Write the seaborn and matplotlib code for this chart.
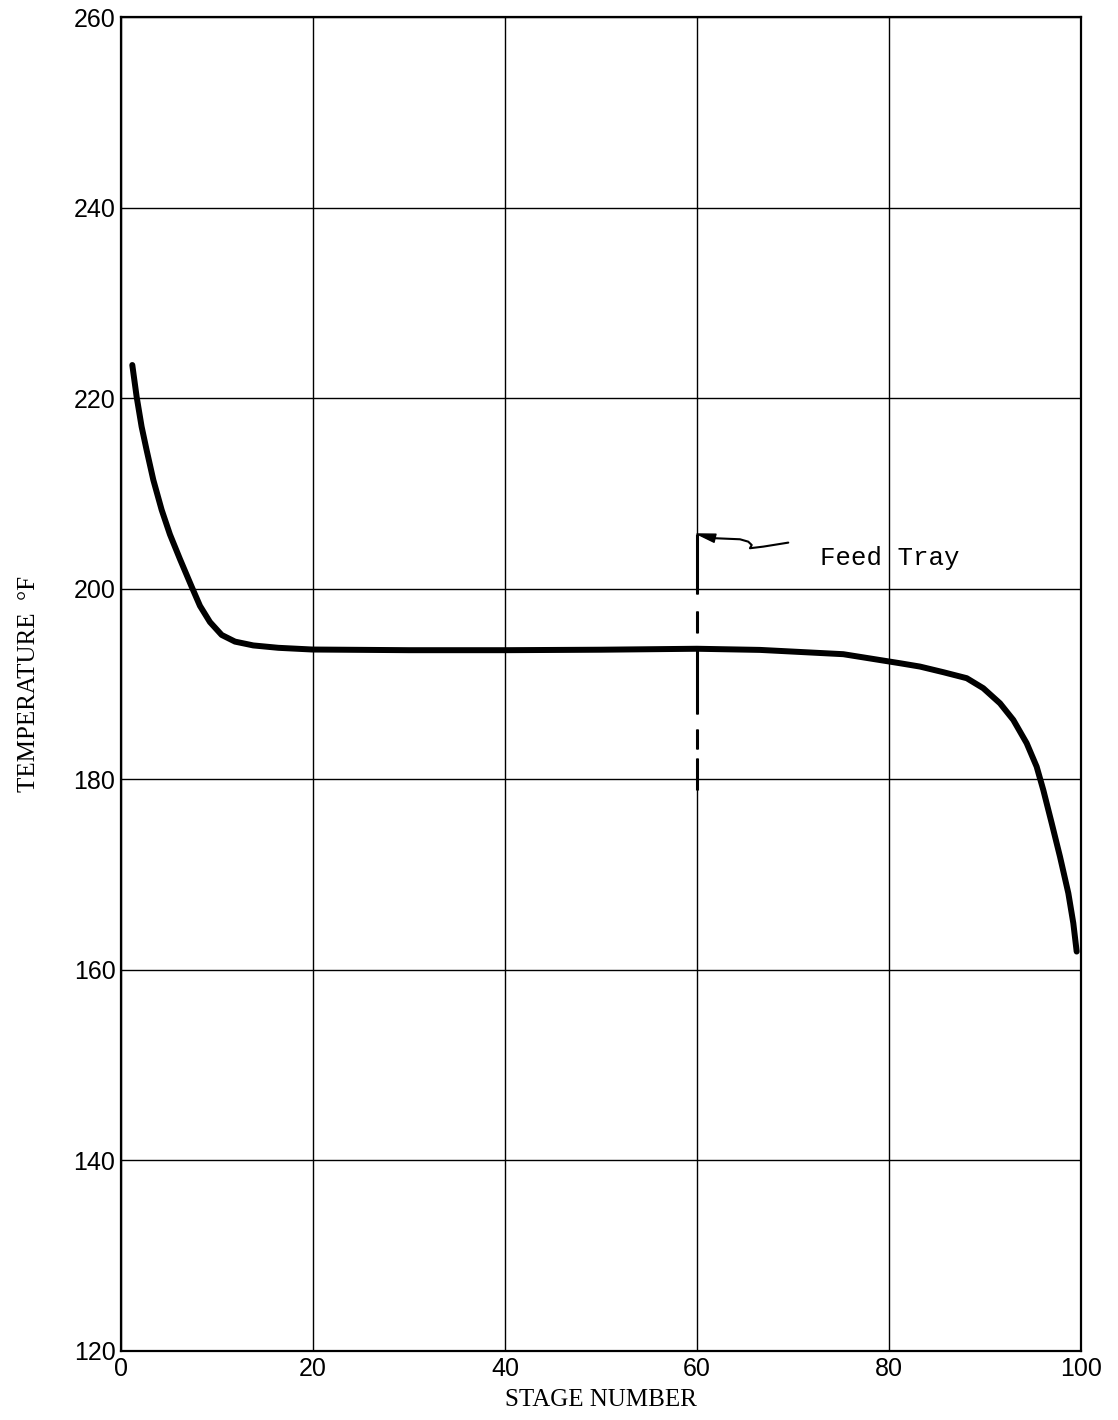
import matplotlib
matplotlib.use("Agg")
import matplotlib.pyplot as plt
import seaborn as sns
import pandas as pd

# ---- data ----
stage = [1.18, 1.63, 2.15, 2.67, 3.37, 4.24, 5.10, 6.15, 7.36, 8.23, 9.27, 10.49,
         11.88, 13.78, 16.39, 19.93, 30.0, 40.0, 50.0, 60.0, 66.56, 75.24,
         81.15, 83.23, 85.66, 88.10, 89.82, 91.56, 92.95, 94.34, 95.38, 96.07, 96.95,
         97.81, 98.68, 99.20, 99.55]
temperature = [223.48, 220.16, 217.01, 214.56, 211.42, 208.27, 205.70, 203.10, 200.22,
               198.20, 196.50, 195.15, 194.45, 194.05, 193.80, 193.62, 193.55, 193.55,
               193.6, 193.7, 193.58, 193.13, 192.18, 191.83, 191.24, 190.61,
               189.56, 187.98, 186.23, 183.79, 181.33, 178.89, 175.39, 171.89, 168.05,
               164.90, 161.92]

x_ticks = [0, 20, 40, 60, 80, 100]
y_ticks = [120, 140, 160, 180, 200, 220, 240, 260]

feed_stage = 60
feed_top = 205.75
feed_bottom = 178.9
arrow_x = [69.51, 66.91, 65.52, 65.70, 65.34, 64.48, 61.88]
arrow_y = [204.84, 204.42, 204.25, 204.59, 204.94, 205.19, 205.30]
feed_label = "Feed Tray"
feed_label_pos = (72.8, 203.2)

df = pd.DataFrame({"stage": stage, "temperature": temperature})

sns.set_theme(style="white")
plt.rcParams["font.family"] = ["Liberation Sans", "DejaVu Sans"]
plt.rcParams["lines.scale_dashes"] = False

fig = plt.figure(figsize=(11.18, 14.2), dpi=100)
ax = fig.add_axes([0.1082, 0.0486, 0.8587, 0.9394])

ax.set_xlim(0, 100)
ax.set_ylim(120, 260)
ax.set_xticks(x_ticks)
ax.set_yticks(y_ticks)
ax.grid(True, color="black", linewidth=1.0, zorder=0)
ax.set_axisbelow(True)
for sp in ax.spines.values():
    sp.set_color("black")
    sp.set_linewidth(1.6)
ax.tick_params(axis="both", length=0, labelsize=18, colors="black")
ax.tick_params(axis="x", pad=4)
ax.tick_params(axis="y", pad=4)

# feed tray marker (solid then dashed, gaps hide the grid line)
ax.plot([feed_stage, feed_stage], [feed_top, feed_bottom], color="black", lw=2.2,
        linestyle=(0, (43.2, 12.2, 15.8, 9.4, 49.0, 10.8, 14.4, 6.5, 30.0, 10.0)),
        gapcolor="white", zorder=2, dash_capstyle="butt")

sns.lineplot(data=df, x="stage", y="temperature", ax=ax, color="black", lw=4.3,
             zorder=3, solid_joinstyle="round", solid_capstyle="round")

# squiggly arrow to feed tray
ax.plot(arrow_x, arrow_y, color="black", lw=1.5, zorder=3,
        solid_joinstyle="round", solid_capstyle="round")
ax.annotate("", xy=(feed_stage, feed_top), xytext=(arrow_x[-1], arrow_y[-1]),
            arrowprops=dict(arrowstyle="wedge,tail_width=0.5", color="black", lw=1.0,
                            mutation_scale=12, shrinkA=0, shrinkB=0), zorder=3)
ax.text(feed_label_pos[0], feed_label_pos[1], feed_label, fontsize=18.5,
        family=["Liberation Mono", "DejaVu Sans Mono"], ha="left", va="center",
        color="black")

ax.set_xlabel("STAGE NUMBER", fontsize=18, family=["Liberation Serif", "DejaVu Serif"],
              labelpad=6, color="black")
ax.set_ylabel("TEMPERATURE  \u00b0F", fontsize=18,
              family=["Liberation Serif", "DejaVu Serif"], labelpad=24, color="black")

fig.savefig("out.png", dpi=100, facecolor="white")
